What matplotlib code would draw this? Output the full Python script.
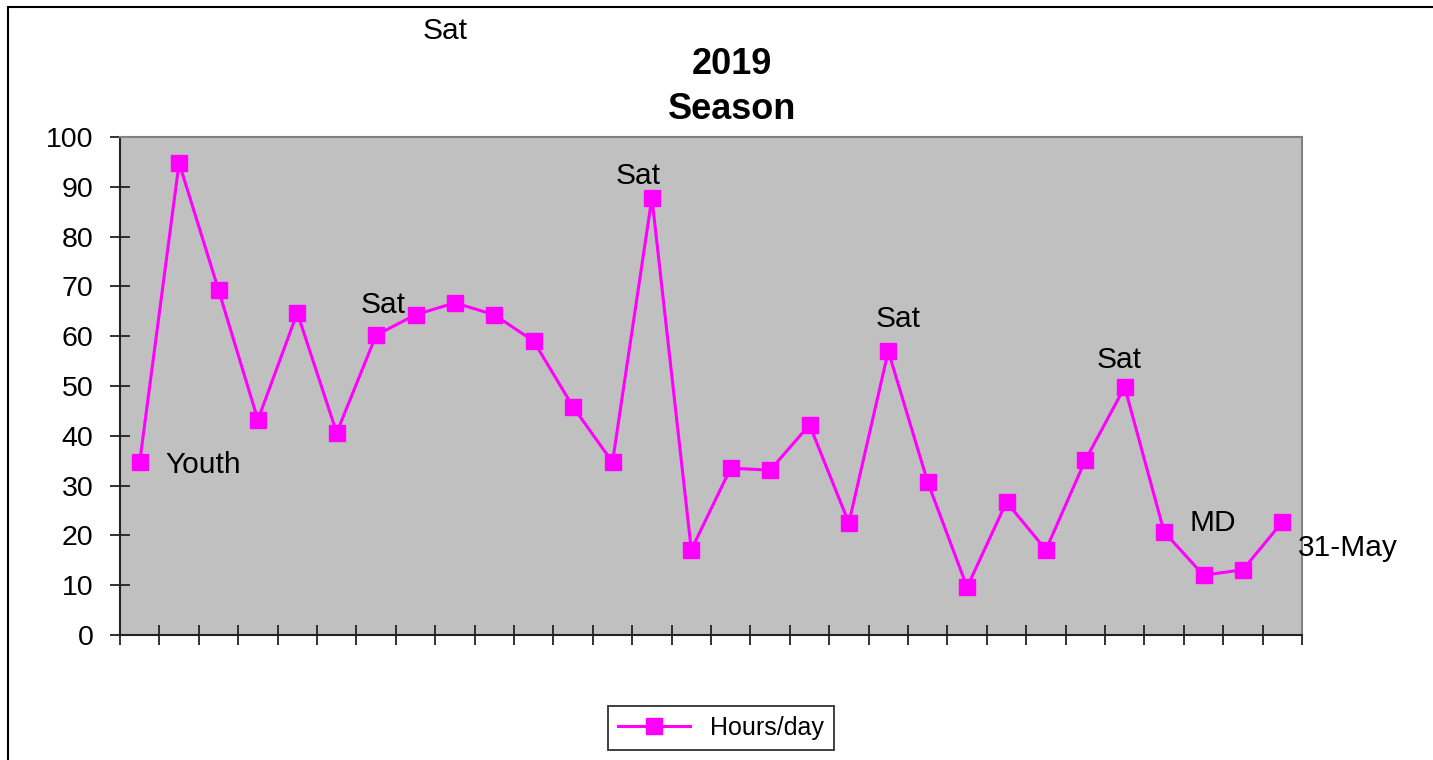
import matplotlib.pyplot as plt
from matplotlib.patches import Rectangle

plt.rcParams['font.family'] = ['Liberation Sans', 'DejaVu Sans']

# daily hours over the 2019 season, 30 days
hours = [34.7, 94.8, 69.3, 43.2, 64.7, 40.6, 60.2, 64.3, 66.7, 64.3,
         59.0, 45.8, 34.7, 87.8, 17.1, 33.5, 33.1, 42.2, 22.5, 57.0,
         30.7, 9.6, 26.7, 17.1, 35.1, 49.8, 20.7, 12.0, 13.1, 22.7]
days = list(range(len(hours)))

# point labels: (day index, text, dx px, dy px, ha)
point_labels = [(0, 'Youth', 26, -3, 'left'),
                (6, 'Sat', 7, 30, 'center'),
                (13, 'Sat', -14, 22, 'center'),
                (19, 'Sat', 10, 32, 'center'),
                (25, 'Sat', -6, 27, 'center'),
                (27, 'MD', 9, 52, 'center'),
                (29, '31-May', 16, -26, 'left')]

fig = plt.figure(figsize=(14.33, 7.6), dpi=100)
# outer chart border (only top and left edges fall inside the image)
fig.patches.append(Rectangle((8 / 1433, -0.1), 1.2, 1.1 - 7 / 760,
                             transform=fig.transFigure, fill=False,
                             edgecolor='black', linewidth=1.5))

ax = fig.add_axes([120 / 1433, 1 - 635 / 760, 1182 / 1433, 498 / 760])
ax.set_facecolor('#C0C0C0')
ax.plot(days, hours, color='#FF00FF', linewidth=2.2, marker='s',
        markersize=12, label='Hours/day')

ax.set_xlim(-0.5, len(hours) - 0.5)
ax.set_ylim(0, 100)
ax.set_yticks(range(0, 101, 10))
ax.set_xticks([i - 0.5 for i in range(len(hours) + 1)])
ax.set_xticklabels([])
ax.tick_params(axis='both', direction='inout', length=14, width=1.3,
               color='#222222', labelsize=20.5)
ax.tick_params(axis='y', pad=12)

for side in ['left', 'bottom']:
    ax.spines[side].set_color('#222222')
    ax.spines[side].set_linewidth(1.5)
for side in ['top', 'right']:
    ax.spines[side].set_color('#808080')
    ax.spines[side].set_linewidth(1.5)

for i, txt, dx, dy, ha in point_labels:
    ax.annotate(txt, (days[i], hours[i]), xytext=(dx * 0.72, dy * 0.72),
                textcoords='offset points', ha=ha, va='center', fontsize=21.5)

fig.text(445 / 1433, 1 - 31 / 760, 'Sat', ha='center', va='center',
         fontsize=21.5)
fig.text(732 / 1433, 1 - 87 / 760, '2019\nSeason', ha='center', va='center',
         fontsize=26, fontweight='bold', linespacing=1.35)

leg = fig.legend(loc='center', bbox_to_anchor=(721 / 1433, 1 - 728 / 760),
                 fontsize=18, frameon=True, fancybox=False,
                 handlelength=2.9, borderpad=0.4)
leg.get_frame().set_edgecolor('black')
leg.get_frame().set_linewidth(1.3)

fig.savefig('out.png', dpi=100)
